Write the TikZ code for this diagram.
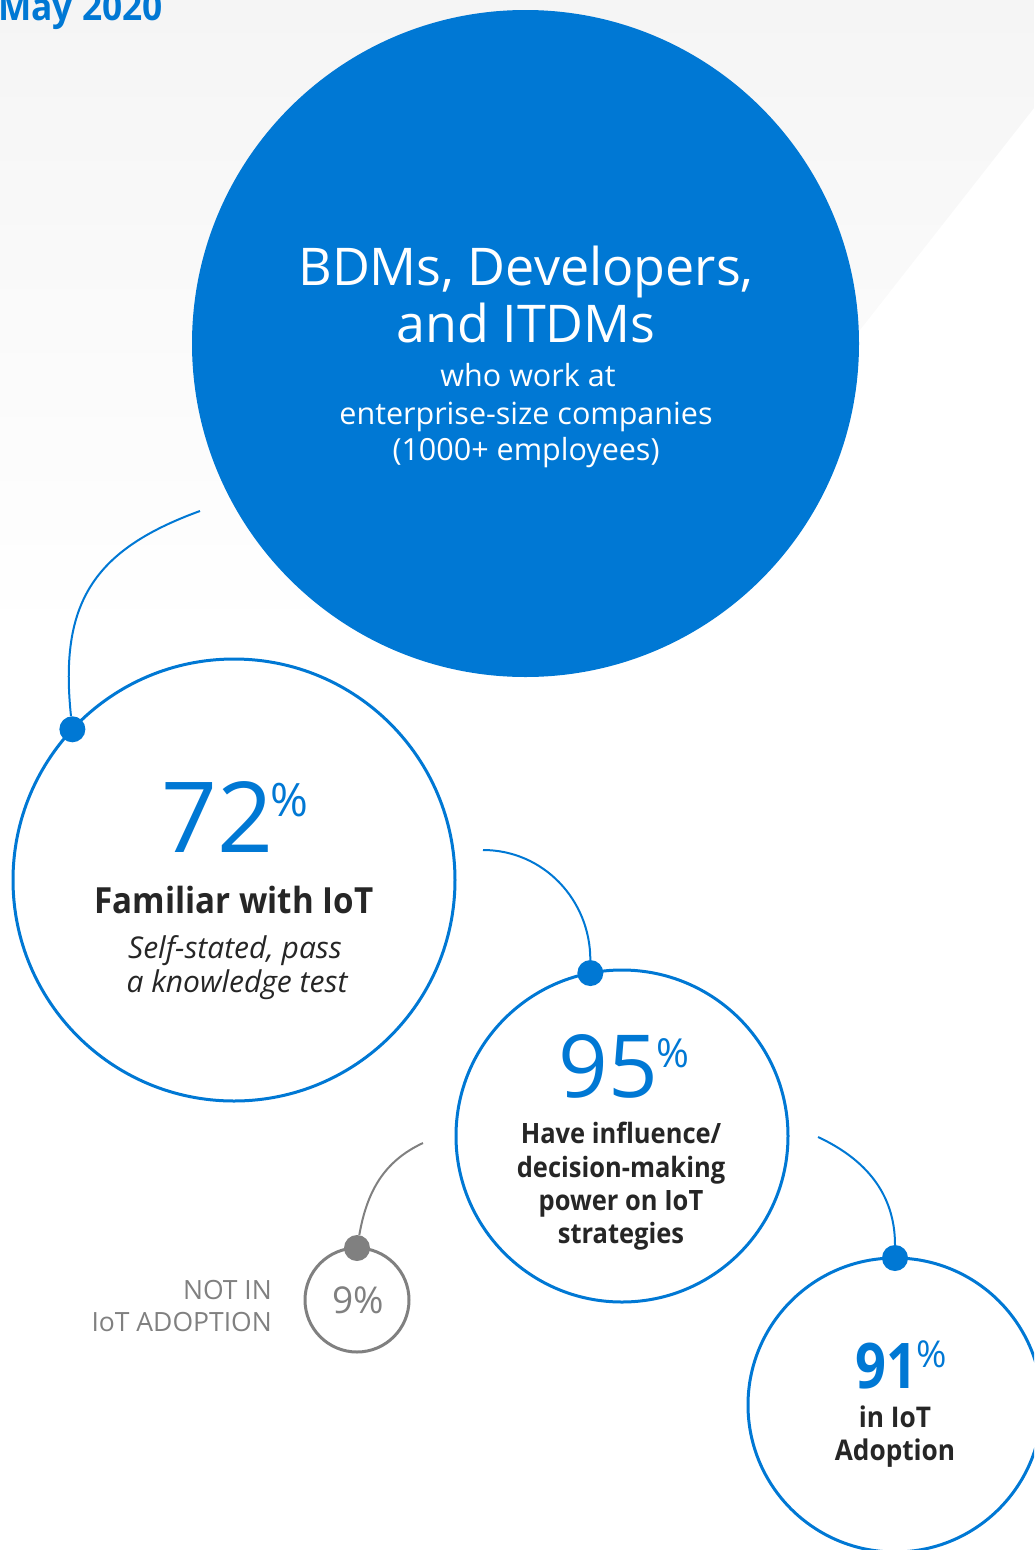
\documentclass[tikz,border=0pt]{standalone}
\usepackage{fontspec}
\setmainfont{Open Sans}
\usepackage{graphicx}
\usepackage{xcolor}
\usepackage{tikz}
\usetikzlibrary{positioning,calc}

\definecolor{msblue}{HTML}{0078D4}
\definecolor{inkdark}{HTML}{262626}
\definecolor{midgray}{HTML}{808080}
\definecolor{paper}{HTML}{F5F5F5}
\newcommand{\pxsize}[1]{\fontsize{#1}{#1}\selectfont}
% narrow bold, stands in for a semibold cut
\newcommand{\semib}[2][0.92]{\scalebox{#1}[1]{\bfseries #2}}

\begin{document}
\begin{tikzpicture}[x=1pt,y=1pt,
  ring/.style={circle,draw=msblue,line width=3pt,fill=white,minimum size=#1,inner sep=0pt,outer sep=0pt},
  greyring/.style={ring=#1,draw=midgray},
  joint/.style={circle,fill=msblue,minimum size=26pt,inner sep=0pt},
  link/.style={msblue,line width=2pt},
  line/.style={anchor=base,inner sep=0pt}]
\useasboundingbox (0,0) rectangle (1034,-1550);
\clip (0,0) rectangle (1034,-1550);

% background
\shade[top color=paper,bottom color=white] (0,0) -- (1034,0) -- (1034,-108) -- (617,-640) -- (0,-640) -- cycle;
\node[line,anchor=base west,msblue,font=\pxsize{38}] (date) at (-2,-20) {\semib[0.93]{May 2020}};

% main circle
\node[circle,fill=msblue,minimum size=667pt,inner sep=0pt] (hub) at (525.5,-343.5) {};
\node[line,white,font=\pxsize{52}] (t1) at (526,-285) {BDMs, Developers,};
\node[line,white,font=\pxsize{52}] (t2) at (526,-342) {and ITDMs};
\node[line,white,font=\pxsize{30.5}] (t3) at (528,-386) {who work at};
\node[line,white,font=\pxsize{30.5}] (t4) at (526,-424) {enterprise-size companies};
\node[line,white,font=\pxsize{30.5}] (t5) at (526,-460) {(1000+ employees)};

% rings
\node[ring=442pt] (ring72) at (234,-880) {};
\node[ring=332pt] (ring95) at (622,-1136) {};
\node[ring=294pt] (ring91) at (895,-1405) {};
\node[greyring=104pt] (ring9) at (357,-1300) {};

% 72%
\node[line,msblue,font=\pxsize{98}] (p72) at (235,-852) {72\kern-3pt\raisebox{36pt}{\pxsize{46}\%}};
\node[line,inkdark,font=\pxsize{36}] (l72) at (234,-913) {\semib{Familiar with IoT}};
\node[line,inkdark,font=\pxsize{30}\itshape] (s72a) at (235,-958) {Self-stated, pass};
\node[line,inkdark,font=\pxsize{30}\itshape] (s72b) at (237,-992) {a knowledge test};

% 95%
\node[line,msblue,font=\pxsize{87}] (p95) at (624,-1097) {95\kern-2pt\raisebox{30pt}{\pxsize{40}\%}};
\node[line,inkdark,font=\pxsize{28}] (l95a) at (621,-1143) {\semib[0.91]{Have influence/}};
\node[line,inkdark,font=\pxsize{28}] (l95b) at (621,-1177) {\semib[0.91]{decision-making}};
\node[line,inkdark,font=\pxsize{28}] (l95c) at (621,-1210) {\semib[0.91]{power on IoT}};
\node[line,inkdark,font=\pxsize{28}] (l95d) at (621,-1243) {\semib[0.91]{strategies}};

% 91%
\node[line,msblue,font=\pxsize{63}] (p91) at (901,-1388) {\semib[0.86]{91}\kern-1pt\raisebox{21pt}{\pxsize{37}\%}};
\node[line,inkdark,font=\pxsize{28.5}] (l91a) at (895,-1427) {\semib{in IoT}};
\node[line,inkdark,font=\pxsize{28.5}] (l91b) at (895,-1460) {\semib{Adoption}};

% 9%
\node[line,midgray,font=\pxsize{37}] (p9) at (358,-1313) {9\%};
\node[line,anchor=base east,midgray,font=\pxsize{26.5}] (n9a) at (272,-1299) {NOT IN};
\node[line,anchor=base east,midgray,font=\pxsize{26.5}] (n9b) at (272,-1331) {IoT ADOPTION};

% joints and links
\node[joint] (j72) at (ring72.137) {};
\node[joint] (j95) at (ring95.101) {};
\node[joint] (j91) at (ring91.90) {};
\node[joint,fill=midgray] (j9) at (ring9.90) {};
\coordinate (c1) at (200,-511);
\coordinate (c2) at (483,-850);
\coordinate (c3) at (818,-1137);
\coordinate (c4) at (423,-1143);
\draw[link] (c1) to[out=200,in=96,looseness=1.2] (j72);
\draw[link] (c2) to[out=0,in=90] (j95);
\draw[link] (c3) to[out=-25,in=90] (j91);
\draw[link,midgray] (c4) to[out=205,in=80] (j9);
\end{tikzpicture}
\end{document}
